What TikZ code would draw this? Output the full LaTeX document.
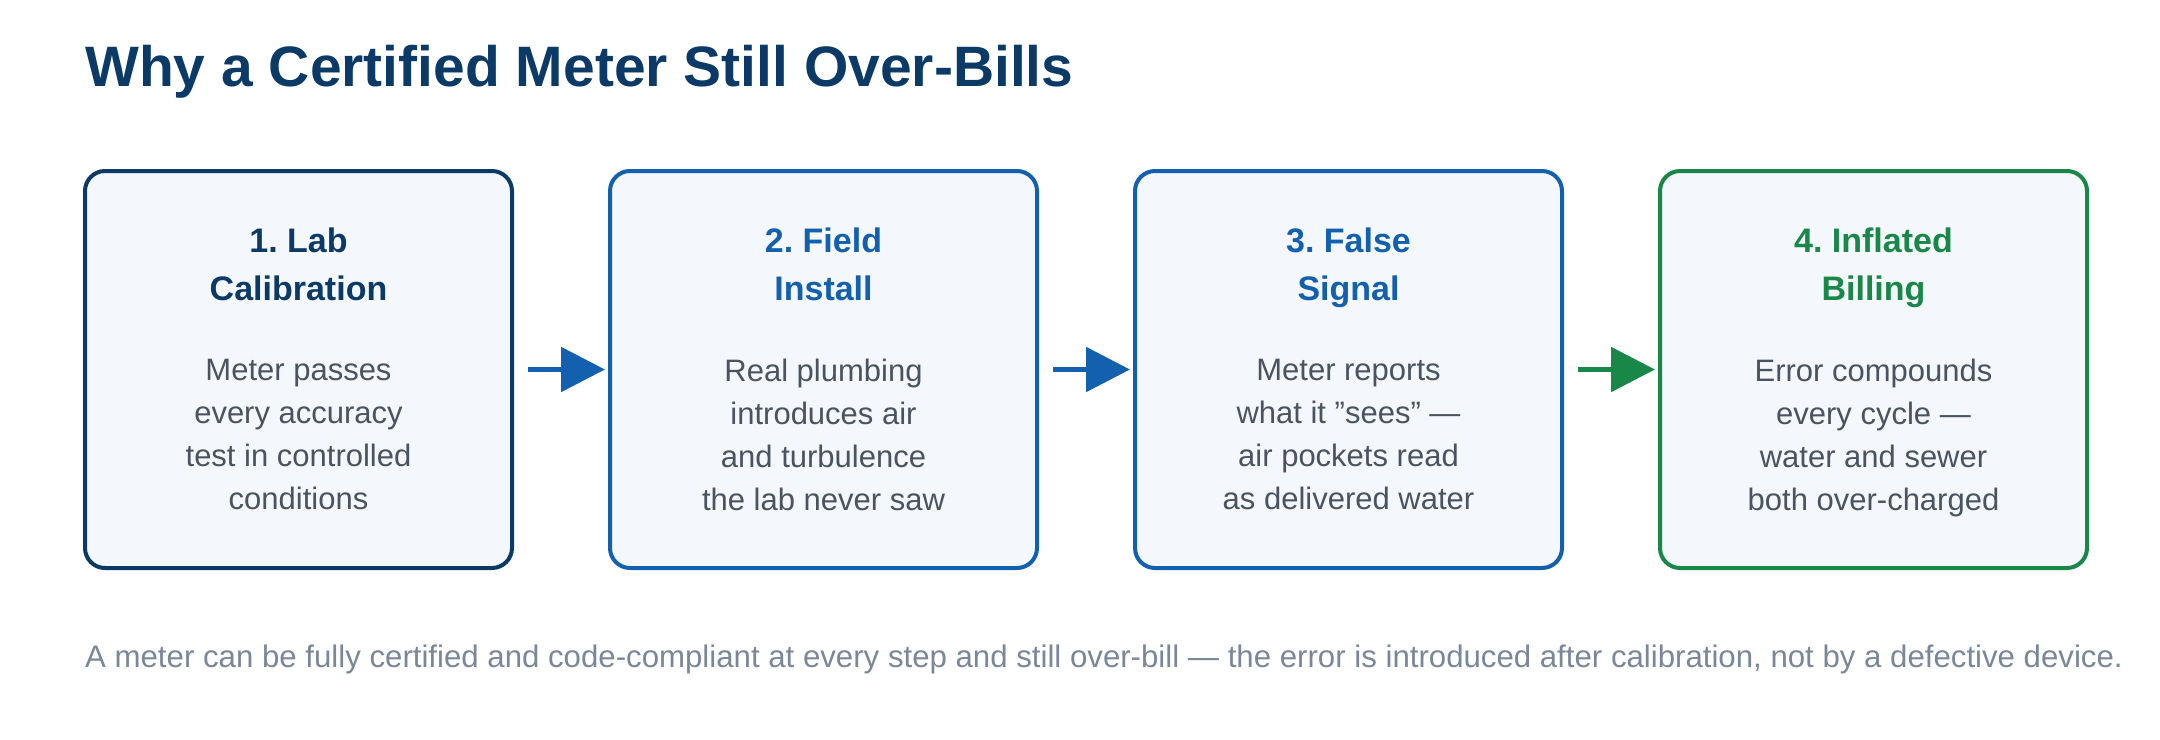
\documentclass[tikz,border=0pt]{standalone}
\usepackage{fontspec}
\setmainfont{Liberation Sans}
\usetikzlibrary{arrows.meta,positioning}
\definecolor{navy}{HTML}{0B3A66}
\definecolor{stepblue}{HTML}{1260AE}
\definecolor{stepgreen}{HTML}{188748}
\definecolor{boxfill}{HTML}{F4F7FB}
\definecolor{bodygray}{HTML}{4A5361}
\definecolor{notegray}{HTML}{7A8799}
\tikzset{>={Triangle[length=44pt,width=44pt]}}
\tikzstyle{stepbox}=[rectangle,draw,fill=boxfill,line width=4pt,minimum width=427pt,minimum height=397pt,rounded corners=20pt]
\tikzstyle{head}=[anchor=north,align=center,font=\fontsize{34}{48}\selectfont\bfseries]
\tikzstyle{body}=[anchor=north,align=center,text=bodygray,font=\fontsize{31}{43}\selectfont]
\tikzstyle{flow}=[->,line width=5.5pt,shorten <=14pt,shorten >=3pt]

\begin{document}
\frenchspacing
\begin{tikzpicture}[x=1pt,y=-1pt,inner sep=0pt]
\def \reldist {525};
\useasboundingbox (0,0) rectangle (2160,739);

\node[anchor=west,text=navy,font=\fontsize{57}{60}\selectfont\bfseries] (title) at (85,72) {Why a Certified Meter Still Over-Bills};

\foreach \i/\col/\hd/\bd in {
  1/navy/{1. Lab\\Calibration}/{Meter passes\\every accuracy\\test in controlled\\conditions},
  2/stepblue/{2. Field\\Install}/{Real plumbing\\introduces air\\and turbulence\\the lab never saw},
  3/stepblue/{3. False\\Signal}/{Meter reports\\what it \symbol{34}sees\symbol{34} —\\air pockets read\\as delivered water},
  4/stepgreen/{4. Inflated\\Billing}/{Error compounds\\every cycle —\\water and sewer\\both over-charged}} {
	\node[stepbox,draw=\col] (S\i) at (298.5 + \i * \reldist - \reldist, 369.5) {};
	\node[head,text=\col] (H\i) at (298.5 + \i * \reldist - \reldist, 228) {\hd};
	\node[body] (B\i) at (298.5 + \i * \reldist - \reldist, 359) {\bd};
};

\draw[flow,stepblue] (S1) -- (S2);
\draw[flow,stepblue] (S2) -- (S3);
\draw[flow,stepgreen] (S3) -- (S4);

\node[anchor=west,text=notegray,font=\fontsize{31.2}{36}\selectfont] (note) at (85,659) {A meter can be fully certified and code-compliant at every step and still over-bill — the error is introduced after calibration, not by a defective device.};

\end{tikzpicture}
\end{document}
